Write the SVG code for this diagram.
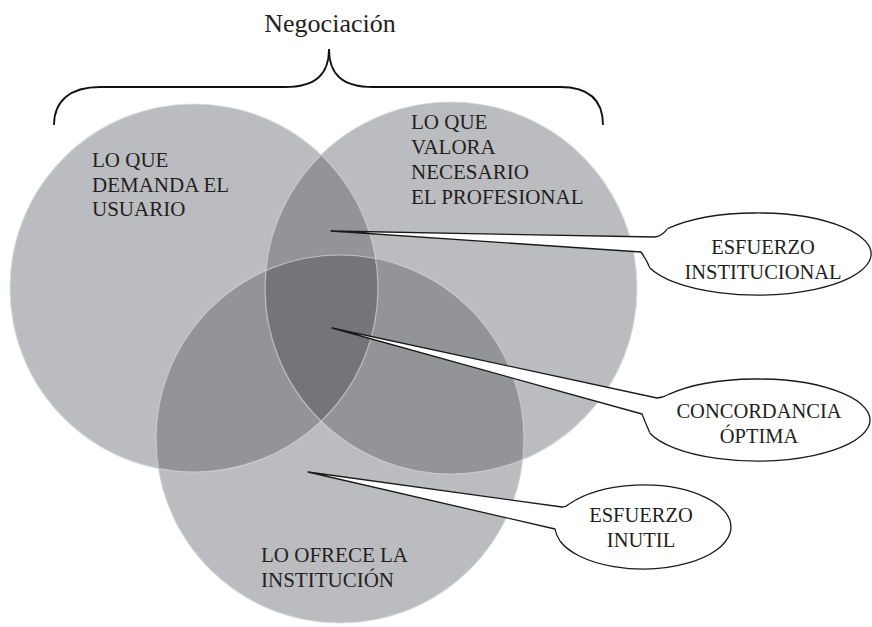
<svg xmlns="http://www.w3.org/2000/svg" width="872" height="627" viewBox="0 0 872 627">
<style>
.lbl{font-family:"Liberation Serif","Times New Roman",serif;font-size:21px;fill:#231f20}
.sm{font-size:20.5px}
.ctr{text-anchor:middle}
.c1{fill:#bbbcc0}
.c2{fill:#939498}
.c3{fill:#747579}
.edge{fill:none;stroke:#d4d5d8;stroke-width:1.2;stroke-opacity:0.7}
.bub{fill:#ffffff;stroke:#1a1a1a;stroke-width:1.3;stroke-linejoin:round}
.brace{fill:none;stroke:#111;stroke-width:1.8}
</style>
<defs>
<clipPath id="clipA"><circle cx="194" cy="288" r="184"/></clipPath>
<clipPath id="clipB"><circle cx="451" cy="288" r="186"/></clipPath>
</defs>
<rect width="872" height="627" fill="#ffffff"/>
<g id="title">
<text class="lbl ctr" x="330" y="32" style="font-size:26px">Negociación</text>
<path class="brace" d="M54 125 C54 101 70 87 100 87 L285 87 C315 87 329 75 329 49 C329 75 343 87 373 87 L560 87 C590 87 603 101 603 125"/>
</g>
<g id="node-usuario">
<circle class="c1" cx="194" cy="288" r="184"/>
</g>
<g id="node-profesional">
<circle class="c1" cx="451" cy="288" r="186"/>
</g>
<g id="node-institucion">
<circle class="c1" cx="340" cy="439" r="184"/>
</g>
<g id="overlaps">
<circle class="c2" cx="451" cy="288" r="186" clip-path="url(#clipA)"/>
<circle class="c2" cx="340" cy="439" r="184" clip-path="url(#clipA)"/>
<circle class="c2" cx="340" cy="439" r="184" clip-path="url(#clipB)"/>
<g clip-path="url(#clipA)"><circle class="c3" cx="340" cy="439" r="184" clip-path="url(#clipB)"/></g>
<circle class="edge" cx="194" cy="288" r="184"/>
<circle class="edge" cx="451" cy="288" r="186"/>
<circle class="edge" cx="340" cy="439" r="184"/>
</g>
<g id="labels">
<text class="lbl" x="92" y="167">LO QUE</text>
<text class="lbl" x="92" y="191.5">DEMANDA EL</text>
<text class="lbl" x="92" y="216">USUARIO</text>
<text class="lbl" x="411" y="129">LO QUE</text>
<text class="lbl" x="411" y="154">VALORA</text>
<text class="lbl" x="411" y="179">NECESARIO</text>
<text class="lbl" x="411" y="204">EL PROFESIONAL</text>
<text class="lbl" x="261" y="562">LO OFRECE LA</text>
<text class="lbl" x="261" y="586.5">INSTITUCIÓN</text>
</g>
<g id="connectors">
<path class="bub" d="M668 228.4 Q662 236 655 237 L331 231 L641 252 Q646 259 650 268"/>
<path class="bub" d="M668 394.7 Q663 397.5 657 398 L332 328 L642 414 Q646 424 650 433.2"/>
<path class="bub" d="M570 503.5 Q566 507 562 507 L308 472 L555 529 Q556 535 560 541"/>
</g>
<g id="callout-institucional">
<path class="bub" d="M668 228.4 A114 41 0 1 1 650 268"/>
<text class="lbl sm ctr" x="763" y="254">ESFUERZO</text>
<text class="lbl sm ctr" x="763" y="279">INSTITUCIONAL</text>
</g>
<g id="callout-optima">
<path class="bub" d="M668 394.7 A113 41 0 1 1 650 433.2"/>
<text class="lbl sm ctr" x="759" y="418">CONCORDANCIA</text>
<text class="lbl sm ctr" x="759" y="443">ÓPTIMA</text>
</g>
<g id="callout-inutil">
<path class="bub" d="M570 503.5 A88 42 0 1 1 560 541"/>
<text class="lbl sm ctr" x="641" y="522">ESFUERZO</text>
<text class="lbl sm ctr" x="641" y="547">INUTIL</text>
</g>
</svg>
